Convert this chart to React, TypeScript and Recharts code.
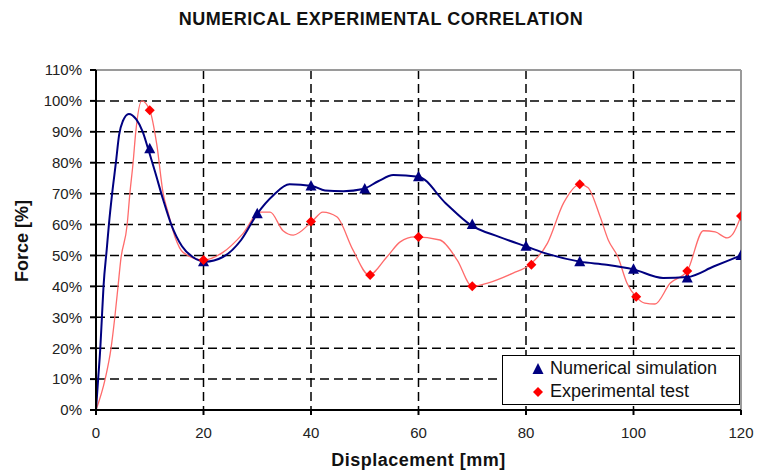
import React from "react";
import {
  ComposedChart,
  Line,
  Scatter,
  XAxis,
  YAxis,
  CartesianGrid,
  ReferenceLine,
} from "recharts";

const FONT = "'Liberation Sans', Arial, Helvetica, sans-serif";

// traced curves (displacement mm / force %)
const simCurveX = [0, 0.4, 0.8, 1.1, 1.4, 2.0, 2.4, 3.0, 3.7, 4.3, 5.0, 6.1, 7.5, 8.7, 9.7, 11, 12.5, 14, 16, 18, 20.3, 23.6, 27, 30, 33, 36, 40.2, 42.6, 46, 49.7, 52.5, 55.3, 60, 65, 69.6, 75, 80.2, 84, 90, 95, 100, 105.5, 110, 115, 120];
const simCurveY = [0, 10, 20, 30, 40, 52, 60, 70, 80, 89, 93.5, 95.8, 94, 90, 84.5, 77, 68, 60, 53, 49.5, 48, 49.5, 55, 63.5, 69.5, 73, 72.5, 71, 70.8, 71.5, 74, 76, 75.5, 67, 60, 56, 52.8, 50.5, 48, 47, 45.5, 42.7, 43, 46.5, 50];

const expCurveX = [0, 1.7, 2.8, 3.5, 4.1, 4.6, 5.8, 6.3, 6.9, 7.4, 8.5, 10, 11.3, 12.5, 13.4, 14.7, 16.2, 20, 23.6, 27.3, 30.5, 32.4, 34.8, 36.7, 40.2, 42.2, 44.8, 47.8, 50.8, 54.1, 56.6, 59.3, 64, 67.2, 70, 72.7, 77.6, 80.7, 84, 87, 90, 91.5, 93.8, 95.3, 97.1, 98.8, 100.5, 102.1, 104, 106.8, 110, 113, 115.2, 117.4, 118.5, 120];
const expCurveY = [0, 10, 20, 30, 40, 48.5, 60, 70, 80, 90, 100, 97, 86, 70, 64, 56, 51, 48.5, 51, 57, 64, 64, 58, 56.6, 61, 64, 62.5, 51.8, 43.7, 49.5, 54.4, 56, 55, 48.5, 40, 41, 44.3, 47, 54, 67, 73, 72, 62.5, 55, 49.5, 41, 36.6, 34.6, 34.3, 41, 45, 58, 57.6, 55.7, 57, 62.8];

// marker points
const simMarkX = [10, 20, 30, 40, 50, 60, 70, 80, 90, 100, 110, 120];
const simMarkY = [84.5, 48, 63.5, 72.5, 71.5, 75.5, 60, 53, 48, 45.5, 42.7, 50];
const expMarkX = [10, 20, 40, 51, 60, 70, 81, 90, 100.5, 110, 120];
const expMarkY = [97, 48.5, 61, 43.7, 56, 40, 47, 73, 36.6, 45, 62.8];

const xTicks = [0, 20, 40, 60, 80, 100, 120];
const yTicks = [0, 10, 20, 30, 40, 50, 60, 70, 80, 90, 100, 110];
const gridX = [20, 40, 60, 80, 100];
const gridY = [10, 20, 30, 40, 50, 60, 70, 80, 90, 100];

const zip = (xs: number[], ys: number[]) => xs.map((x, i) => ({ x, y: ys[i] }));

const simCurve = zip(simCurveX, simCurveY);
const expCurve = zip(expCurveX, expCurveY);
const simMarks = zip(simMarkX, simMarkY);
const expMarks = zip(expMarkX, expMarkY);

const NAVY = "#000080";
const RED = "#ff0000";

const Triangle = (p: any) => (
  <polygon
    points={`${p.cx},${p.cy - 6} ${p.cx - 5.5},${p.cy + 4.5} ${p.cx + 5.5},${p.cy + 4.5}`}
    fill={NAVY}
  />
);

const Diamond = (p: any) => (
  <polygon
    points={`${p.cx},${p.cy - 5} ${p.cx + 5},${p.cy} ${p.cx},${p.cy + 5} ${p.cx - 5},${p.cy}`}
    fill={RED}
  />
);

export default function App() {
  return (
    <div
      style={{
        position: "absolute",
        left: 0,
        top: 0,
        width: 758,
        height: 475,
        background: "#fff",
        fontFamily: FONT,
      }}
    >
      <div
        style={{
          position: "absolute",
          left: 0,
          width: 762,
          top: 9,
          textAlign: "center",
          fontSize: 18,
          fontWeight: 700,
          letterSpacing: 0.5,
          color: "#111",
        }}
      >
        NUMERICAL EXPERIMENTAL CORRELATION
      </div>

      <ComposedChart
        width={758}
        height={475}
        margin={{ top: 70, right: 17, bottom: 35, left: 0 }}
      >
        <CartesianGrid
          horizontalValues={gridY}
          verticalValues={gridX}
          stroke="#000"
          strokeWidth={1.5}
          strokeDasharray="9 5"
        />
        <XAxis
          dataKey="x"
          type="number"
          domain={[0, 120]}
          ticks={xTicks}
          height={30}
          tickSize={5}
          tickMargin={12}
          stroke="#000"
          strokeWidth={2}
          tick={{ fontSize: 15, fill: "#222", fontFamily: FONT }}
          allowDataOverflow
        />
        <YAxis
          dataKey="y"
          type="number"
          domain={[0, 110]}
          ticks={yTicks}
          width={96}
          tickSize={6}
          tickMargin={8}
          stroke="#000"
          strokeWidth={2}
          tickFormatter={(v) => `${v}%`}
          tick={{ fontSize: 15, fill: "#222", fontFamily: FONT }}
          allowDataOverflow
        />
        <ReferenceLine y={110} stroke="#9a9a9a" strokeWidth={2} />
        <ReferenceLine x={120} stroke="#9a9a9a" strokeWidth={2} />
        <Line
          data={expCurve}
          dataKey="y"
          type="monotone"
          stroke="#ff6b6b"
          strokeWidth={1.3}
          dot={false}
          isAnimationActive={false}
        />
        <Line
          data={simCurve}
          dataKey="y"
          type="monotone"
          stroke={NAVY}
          strokeWidth={2}
          dot={false}
          isAnimationActive={false}
        />
        <Scatter data={simMarks} dataKey="y" shape={Triangle} isAnimationActive={false} />
        <Scatter data={expMarks} dataKey="y" shape={Diamond} isAnimationActive={false} />
      </ComposedChart>

      <div
        style={{
          position: "absolute",
          left: 22,
          top: 241,
          transform: "translate(-50%, -50%) rotate(-90deg)",
          fontSize: 18,
          fontWeight: 700,
          color: "#111",
          whiteSpace: "nowrap",
        }}
      >
        Force [%]
      </div>
      <div
        style={{
          position: "absolute",
          left: 96,
          width: 645,
          top: 450,
          textAlign: "center",
          fontSize: 18,
          fontWeight: 700,
          letterSpacing: 0.5,
          color: "#111",
        }}
      >
        Displacement [mm]
      </div>

      <div
        style={{
          position: "absolute",
          left: 502,
          top: 355,
          width: 236,
          height: 48,
          border: "1.5px solid #000",
          background: "#fff",
          fontSize: 18,
          color: "#111",
        }}
      >
        <div style={{ position: "absolute", left: 28, top: 2, display: "flex", alignItems: "center" }}>
          <svg width={14} height={14} style={{ marginRight: 5 }}>
            <polygon points="7,1 1.5,12 12.5,12" fill={NAVY} />
          </svg>
          Numerical simulation
        </div>
        <div style={{ position: "absolute", left: 28, top: 25, display: "flex", alignItems: "center" }}>
          <svg width={14} height={14} style={{ marginRight: 5 }}>
            <polygon points="7,2 12,7 7,12 2,7" fill={RED} />
          </svg>
          Experimental test
        </div>
      </div>
    </div>
  );
}
